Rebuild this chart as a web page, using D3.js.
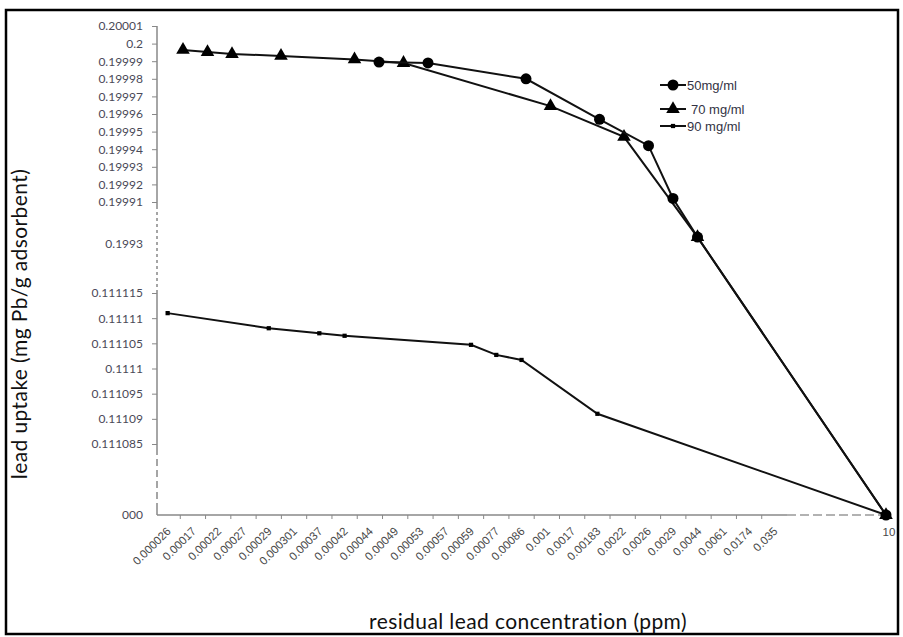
<!DOCTYPE html>
<html lang="en">
<head>
<meta charset="UTF-8">
<title>Lead uptake vs residual lead concentration</title>
<script src="https://d3js.org/d3.v7.min.js"></script>
<style>
    body { margin: 0; background: #fff; }
    .ylab { font-family: Lato, "Open Sans", sans-serif; font-size: 12px; fill: #4a4a58; }
    .xlab { font-family: "Liberation Sans", Arial, sans-serif; font-size: 11.5px; fill: #484848; }
    .title { font-family: Lato, "Open Sans", sans-serif; font-size: 21px; letter-spacing: 0.4px; fill: #111; }
    .legend text { font-family: "Liberation Sans", Arial, sans-serif; font-size: 13px; fill: #334; }
</style>
</head>
<body>
<div id="chart"></div>
<script>
    // categories on the x axis, last point sits past the break at "10"
    const xLabels = ["0.000026","0.00017","0.00022","0.00027","0.00029","0.000301","0.00037","0.00042",
        "0.00044","0.00049","0.00053","0.00057","0.00059","0.00077","0.00086","0.001","0.0017","0.00183",
        "0.0022","0.0026","0.0029","0.0044","0.0061","0.0174","0.035"];
    const endLabel = "10";

    const yTicks = [0.20001, 0.2, 0.19999, 0.19998, 0.19997, 0.19996, 0.19995, 0.19994, 0.19993, 0.19992, 0.19991,
        0.1993, 0.111115, 0.11111, 0.111105, 0.1111, 0.111095, 0.11109, 0.111085, 0];
    const yTickLabels = ["0.20001","0.2","0.19999","0.19998","0.19997","0.19996","0.19995","0.19994","0.19993",
        "0.19992","0.19991","0.1993","0.111115","0.11111","0.111105","0.1111","0.111095","0.11109","0.111085","000"];

    const x50 = ["0.00044","0.00053","0.00086","0.00183","0.0026","0.0029","0.0044","10"];
    const y50 = [0.1999895, 0.199989, 0.19998, 0.199957, 0.199942, 0.199912, 0.1994, 0];

    const x70 = ["0.000026","0.00017","0.00022","0.00029","0.00042","0.00049","0.001","0.0022","0.0044","10"];
    const y70 = [0.1999964, 0.1999952, 0.1999941, 0.199993, 0.199991, 0.199989, 0.1999645, 0.199947, 0.1994, 0];

    const x90 = ["0.000026","0.00029","0.00037","0.00042","0.00059","0.00077","0.00086","0.00183","10"];
    const y90 = [0.111111, 0.111108, 0.111107, 0.1111065, 0.1111047, 0.1111027, 0.1111017, 0.111091, 0];

    const W = 903, H = 637;
    const axisX = 157, axisY = 515, endX = 886;

    const svg = d3.select("#chart").append("svg")
        .attr("width", W).attr("height", H);

    // frame
    svg.append("rect")
        .attr("x", 6).attr("y", 10).attr("width", 892).attr("height", 624)
        .attr("fill", "none").attr("stroke", "#000").attr("stroke-width", 2.5);

    // broken y scale (piecewise)
    const y = d3.scaleLinear()
        .domain([0, 0.111085, 0.111115, 0.1993, 0.19991, 0.20001])
        .range([axisY, 444, 293, 244, 202, 26]);

    // lower panel x (bands) and upper panel x (pasted plot, slightly shifted)
    const x = d3.scaleBand().domain(xLabels).range([155, 787]);
    const xTop = d3.scalePoint().domain(xLabels).range([183, 771]);

    const posLow = d => d === endLabel ? endX : x(d) + x.bandwidth() / 2;
    const posTop = d => d === endLabel ? endX : xTop(d);

    // y axis
    const yAxis = svg.append("g")
        .attr("transform", `translate(${axisX},0)`)
        .call(d3.axisLeft(y).tickValues(yTicks).tickSize(5).tickPadding(9)
            .tickFormat((d, i) => yTickLabels[i]));
    yAxis.select(".domain").remove();
    yAxis.selectAll(".tick line").attr("stroke", "#888");
    yAxis.selectAll(".tick").filter(d => d === 0.1993 || d === 0).select("line").remove();
    yAxis.selectAll("text").attr("class", "ylab").attr("font-size", null).attr("font-family", null);

    const ySeg = [
        [y(0.20001), y(0.19991) + 4, null],
        [y(0.19991) + 4, y(0.111115) - 3, "3,3"],
        [y(0.111115) - 3, y(0.111085) + 4, null],
        [y(0.111085) + 4, axisY - 6, "7,4"],
        [axisY - 6, axisY, null]
    ];
    svg.selectAll(".yseg").data(ySeg).enter().append("line")
        .attr("x1", axisX).attr("x2", axisX)
        .attr("y1", d => d[0]).attr("y2", d => d[1])
        .attr("stroke", "#888").attr("stroke-width", 1.5)
        .attr("stroke-dasharray", d => d[2]);

    // x axis
    svg.append("line")
        .attr("x1", axisX).attr("x2", x.range()[1])
        .attr("y1", axisY).attr("y2", axisY)
        .attr("stroke", "#888").attr("stroke-width", 1.5);
    svg.append("line")
        .attr("x1", x.range()[1]).attr("x2", endX)
        .attr("y1", axisY).attr("y2", axisY)
        .attr("stroke", "#999").attr("stroke-width", 1.5)
        .attr("stroke-dasharray", "9,4");

    svg.selectAll(".xtick").data(xLabels.slice(1)).enter().append("line")
        .attr("x1", d => x(d)).attr("x2", d => x(d))
        .attr("y1", axisY).attr("y2", axisY + 4)
        .attr("stroke", "#888");

    svg.selectAll(".xlab").data(xLabels).enter().append("text")
        .attr("class", "xlab")
        .attr("text-anchor", "end")
        .attr("dy", "0.35em")
        .attr("transform", d => `translate(${posLow(d) + 1},${axisY + 14}) rotate(-45)`)
        .text(d => d);

    svg.append("text").attr("class", "xlab")
        .attr("x", endX + 3).attr("y", axisY + 21)
        .attr("text-anchor", "middle")
        .text(endLabel);

    // axis titles
    svg.append("text").attr("class", "title")
        .attr("x", 528).attr("y", 629)
        .attr("text-anchor", "middle")
        .text("residual lead concentration (ppm)");
    svg.append("text").attr("class", "title")
        .attr("transform", "translate(27,324) rotate(-90)")
        .attr("text-anchor", "middle")
        .text("lead uptake (mg Pb/g adsorbent)");

    const series = [
        {name: "90 mg/ml", xs: x90, ys: y90, pos: posLow, marker: "square"},
        {name: "70 mg/ml", xs: x70, ys: y70, pos: posTop, marker: "triangle"},
        {name: "50mg/ml", xs: x50, ys: y50, pos: posTop, marker: "circle"}
    ];

    const line = d3.line();
    const symbolFor = {
        circle: d3.symbol().type(d3.symbolCircle).size(95),
        triangle: d3.symbol().type(d3.symbolTriangle).size(80),
        square: d3.symbol().type(d3.symbolSquare).size(18)
    };

    series.forEach(s => {
        const pts = s.xs.map((d, i) => [s.pos(d), y(s.ys[i])]);
        svg.append("path")
            .attr("d", line(pts))
            .attr("fill", "none")
            .attr("stroke", "#111")
            .attr("stroke-width", 2);
        svg.selectAll(null).data(pts).enter().append("path")
            .attr("d", symbolFor[s.marker]())
            .attr("transform", d => `translate(${d[0]},${d[1]})`)
            .attr("fill", "#000");
    });

    // legend
    const legendRows = [
        {name: "50mg/ml", marker: "circle", y: 85, dx: 0},
        {name: "70 mg/ml", marker: "triangle", y: 109, dx: 4},
        {name: "90 mg/ml", marker: "square", y: 126, dx: 0}
    ];
    const legend = svg.append("g").attr("class", "legend");
    legendRows.forEach(r => {
        legend.append("line")
            .attr("x1", 660).attr("x2", 686)
            .attr("y1", r.y).attr("y2", r.y)
            .attr("stroke", "#111").attr("stroke-width", 2);
        legend.append("path")
            .attr("d", symbolFor[r.marker]())
            .attr("transform", `translate(673,${r.y})`)
            .attr("fill", "#000");
        legend.append("text")
            .attr("x", 687 + r.dx).attr("y", r.y)
            .attr("dy", "0.35em")
            .text(r.name);
    });
</script>
</body>
</html>
